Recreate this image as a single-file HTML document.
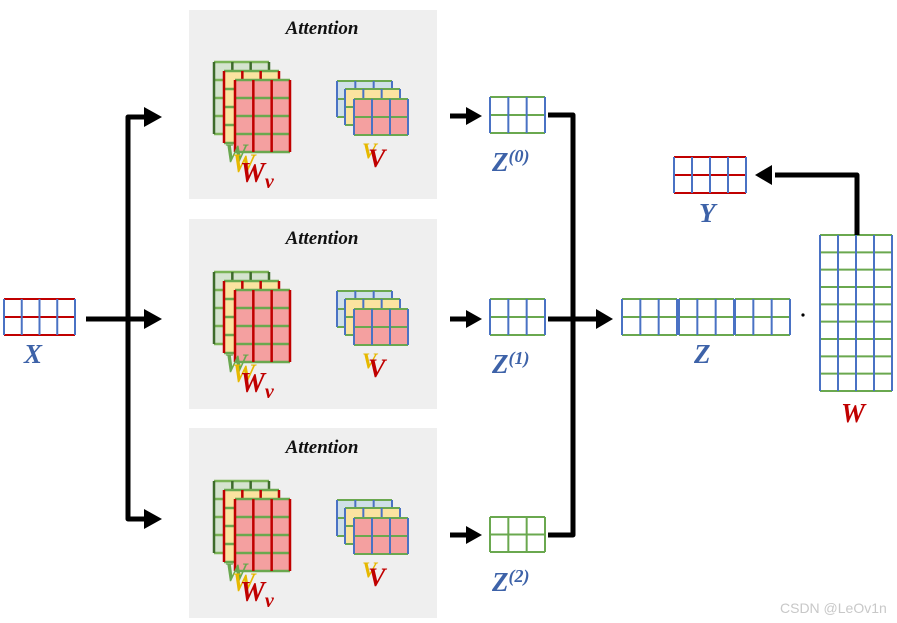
<!DOCTYPE html>
<html><head><meta charset="utf-8"><style>
html,body{margin:0;padding:0;background:#fff;}
svg{display:block;}
.t{font-family:"Liberation Serif",serif;font-weight:bold;font-style:italic;}
</style></head><body>
<svg id="s" width="897" height="623" viewBox="0 0 897 623" xmlns="http://www.w3.org/2000/svg">
<rect width="897" height="623" fill="#fff"/>
<rect x="189" y="10" width="248" height="189" fill="#efefef"/>
<rect x="189" y="219" width="248" height="190" fill="#efefef"/>
<rect x="189" y="428" width="248" height="190" fill="#efefef"/>
<g class="t" font-size="19" fill="#111" text-anchor="middle">
<text x="322" y="34">Attention</text>
<text x="322" y="244">Attention</text>
<text x="322" y="453">Attention</text>
</g>
<g id="grids"></g>
<g class="t" font-size="26">
<text x="224" y="162" fill="#6aa84f">W</text>
<text x="224" y="372" fill="#6aa84f">W</text>
<text x="224" y="581" fill="#6aa84f">W</text>
<text x="232" y="172" fill="#e6b800">W</text>
<text x="232" y="382" fill="#e6b800">W</text>
<text x="232" y="591" fill="#e6b800">W</text>
<text x="240" y="182" fill="#c00000" font-size="28">W<tspan font-size="20" dy="6">v</tspan></text>
<text x="240" y="392" fill="#c00000" font-size="28">W<tspan font-size="20" dy="6">v</tspan></text>
<text x="240" y="601" fill="#c00000" font-size="28">W<tspan font-size="20" dy="6">v</tspan></text>
<text x="362" y="158" fill="#e6b800" font-size="22">V</text>
<text x="362" y="368" fill="#e6b800" font-size="22">V</text>
<text x="362" y="577" fill="#e6b800" font-size="22">V</text>
<text x="368" y="167" fill="#c00000" font-size="26">V</text>
<text x="368" y="377" fill="#c00000" font-size="26">V</text>
<text x="368" y="586" fill="#c00000" font-size="26">V</text>
</g>
<g class="t" fill="#3d62a8" font-size="27">
<text x="24" y="363">X</text>
<text x="492" y="171">Z<tspan font-size="18" dy="-9">(0)</tspan></text>
<text x="492" y="373">Z<tspan font-size="18" dy="-9">(1)</tspan></text>
<text x="492" y="591">Z<tspan font-size="18" dy="-9">(2)</tspan></text>
<text x="694" y="363">Z</text>
<text x="699" y="222">Y</text>
</g>
<text class="t" x="841" y="422" fill="#c00000" font-size="27">W</text>
<circle cx="803" cy="315" r="1.6" fill="#000"/>
<g stroke="#000" stroke-width="5" fill="none" stroke-linejoin="round">
<line x1="86" y1="319" x2="148" y2="319"/>
<path d="M148 117 H128 V519 H148"/>
<line x1="450" y1="116" x2="470" y2="116"/>
<line x1="450" y1="319" x2="470" y2="319"/>
<line x1="450" y1="535" x2="470" y2="535"/>
<path d="M548 115 H573 V535 H548"/>
<line x1="548" y1="319" x2="598" y2="319"/>
<path d="M857 235 V175 H775"/>
</g>
<g fill="#000">
<polygon points="144,309 162,319 144,329"/>
<polygon points="144,107 162,117 144,127"/>
<polygon points="144,509 162,519 144,529"/>
<polygon points="466,107 482,116 466,125"/>
<polygon points="466,310 482,319 466,328"/>
<polygon points="466,526 482,535 466,544"/>
<polygon points="596,309 613,319 596,329"/>
<polygon points="772,165 755,175 772,185"/>
</g>
<text x="780" y="613" font-family="Liberation Sans,sans-serif" font-size="14" fill="#c8c8c8">CSDN @LeOv1n</text>
</svg>
<script>
var g=document.getElementById('grids'),NS='http://www.w3.org/2000/svg';
function el(n,a){var e=document.createElementNS(NS,n);for(var k in a)e.setAttribute(k,a[k]);g.appendChild(e);}
function grid(x,y,w,h,c,r,fill,vc,hc,sw){
 el('rect',{x:x,y:y,width:w,height:h,fill:fill});
 for(var i=0;i<=r;i++){var yy=y+h*i/r;el('line',{x1:x,y1:yy,x2:x+w,y2:yy,stroke:hc,'stroke-width':sw});}
 for(var j=0;j<=c;j++){var xx=x+w*j/c;el('line',{x1:xx,y1:y,x2:xx,y2:y+h,stroke:vc,'stroke-width':sw});}
}
[0,210,419].forEach(function(o){
 grid(214,62+o,55,72,3,4,'#d5e3cf','#3d6b2a','#7ab356',2.5);
 grid(224,71+o,55,72,3,4,'#fbe3a0','#c00000','#6aa84f',2.5);
 grid(235,80+o,55,72,3,4,'#f4a0a0','#c00000','#6aa84f',2.5);
 grid(337,81+o,55,36,3,2,'#cfe0e8','#4a72c4','#6aa84f',2);
 grid(345,89+o,55,36,3,2,'#fbe3a0','#4a72c4','#6aa84f',2);
 grid(354,99+o,54,36,3,2,'#f4a0a0','#4a72c4','#6aa84f',2);
});
grid(490,97,55,36,3,2,'#fff','#4a72c4','#6aa84f',2);
grid(490,299,55,36,3,2,'#fff','#4a72c4','#6aa84f',2);
grid(490,517,55,35,3,2,'#fff','#6aa84f','#6aa84f',2);
grid(4,299,71,36,4,2,'#fff','#4a72c4','#c00000',2);
grid(674,157,72,36,4,2,'#fff','#4a72c4','#c00000',2);
grid(622,299,55,36,3,2,'#fff','#4a72c4','#6aa84f',2);
grid(679,299,55,36,3,2,'#fff','#4a72c4','#6aa84f',2);
grid(735,299,55,36,3,2,'#fff','#4a72c4','#6aa84f',2);
grid(820,235,72,156,4,9,'#fff','#4a72c4','#6aa84f',2);
</script>
</body></html>
